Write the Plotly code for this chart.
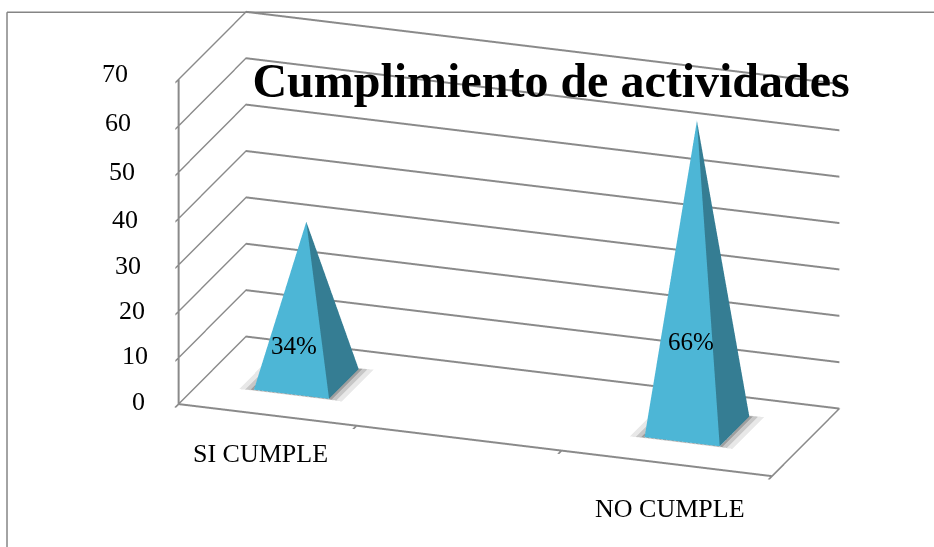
import plotly.graph_objects as go

categories = ["SI CUMPLE", "", "NO CUMPLE"]
values = [34, 66]
value_labels = ["34%", "66%"]
value_positions = [0.465, 2.44]
category_positions = [0.5, 2.5]
x_ticks = [0, 0.9, 1.936, 3]
z_ticks = [0, 10, 20, 30, 40, 50, 60, 70]
z_label_nudge = [3, 2, 1, -1, -1, 1, 3, 6]

FRONT = "#4DB6D6"
SIDE = "#357D93"
GRAY = "#8A8A8A"
SERIF = "Liberation Serif"
HW, HD, CY = 0.19, 0.22, 0.53
FLAT = dict(ambient=1, diffuse=0, specular=0, roughness=1, fresnel=0)


def shadow(cx, gx, gy, op):
    return go.Mesh3d(
        x=[cx - HW - gx, cx + HW + gx, cx + HW + gx, cx - HW - gx],
        y=[CY - HD - gy, CY - HD - gy, CY + HD + gy, CY + HD + gy],
        z=[0.02] * 4, i=[0, 0], j=[1, 2], k=[2, 3],
        color="#404040", opacity=op, lighting=FLAT, flatshading=True, hoverinfo="skip",
    )


def pyramid(cx, h):
    return go.Mesh3d(
        x=[cx - HW, cx + HW, cx + HW, cx - HW, cx],
        y=[CY - HD, CY - HD, CY + HD, CY + HD, CY],
        z=[0, 0, 0, 0, h],
        i=[0, 1, 2, 3], j=[1, 2, 3, 0], k=[4, 4, 4, 4],
        facecolor=[FRONT, SIDE, SIDE, FRONT],
        lighting=FLAT, flatshading=True, hoverinfo="skip",
    )


fig = go.Figure()
for cx, v in zip(value_positions, values):
    fig.add_trace(shadow(cx, 0.07, 0.015, 0.12))
    fig.add_trace(shadow(cx, 0.04, 0.01, 0.2))
    fig.add_trace(shadow(cx, 0.015, 0.005, 0.3))
    fig.add_trace(pyramid(cx, v))

notes = [
    dict(x=category_positions[0], y=0, z=0, text=categories[0], yshift=-37, xshift=-17,
         font=dict(family=SERIF, size=26, color="black")),
    dict(x=category_positions[1], y=0, z=0, text=categories[2], yshift=-44, xshift=-3,
         font=dict(family=SERIF, size=26, color="black")),
    dict(x=value_positions[0], y=CY, z=values[0] / 2, text=value_labels[0], xshift=-12, yshift=-45,
         font=dict(family=SERIF, size=25, color="black")),
    dict(x=value_positions[1], y=CY, z=values[1] / 2, text=value_labels[1], xshift=-6, yshift=-68,
         font=dict(family=SERIF, size=25, color="black")),
]
for t, nudge in zip(z_ticks, z_label_nudge):
    notes.append(dict(x=0, y=0, z=t, text=str(t), xshift=-40 - 24 * t / 70, yshift=nudge,
                      font=dict(family=SERIF, size=26, color="black")))
for n in notes:
    n.update(showarrow=False)

axis_common = dict(
    title=dict(text=""), showbackground=False, showspikes=False, zeroline=False,
    showline=True, linecolor=GRAY, linewidth=4,
)
fig.update_layout(
    width=934, height=547, margin=dict(l=0, r=0, t=0, b=0),
    paper_bgcolor="white", showlegend=False,
    title=dict(text="<b>Cumplimiento de actividades</b>", x=0.59, xanchor="center",
               y=0.853, yanchor="middle", font=dict(family=SERIF, size=48, color="black")),
    scene=dict(
        domain=dict(x=[0.09, 1], y=[0.108, 1]),
        xaxis=dict(axis_common, range=[0, 3], tickmode="array", tickvals=x_ticks,
                   ticktext=["", "", "", ""], showgrid=False, ticks="outside",
                   tickcolor=GRAY, ticklen=6, tickwidth=4),
        yaxis=dict(axis_common, range=[0, 1], showticklabels=False, showgrid=False, ticks=""),
        zaxis=dict(axis_common, range=[0, 70], tickmode="array", tickvals=z_ticks,
                   ticktext=[""] * len(z_ticks),
                   ticks="outside", tickcolor=GRAY, ticklen=6, tickwidth=4, tickangle=0,
                   showgrid=True, gridcolor=GRAY, gridwidth=4),
        aspectmode="manual",
        aspectratio=dict(x=2.575, y=0.84, z=1.42),
        camera=dict(projection=dict(type="orthographic"),
                    eye=dict(x=0.616, y=-1.77, z=0.698),
                    center=dict(x=0, y=0, z=0), up=dict(x=0, y=0, z=1)),
        annotations=notes,
    ),
    shapes=[
        dict(type="line", xref="paper", yref="paper", x0=0.0075, x1=1, y0=0.9775, y1=0.9775,
             line=dict(color="#858585", width=1.5)),
        dict(type="line", xref="paper", yref="paper", x0=0.0075, x1=0.0075, y0=0, y1=0.9775,
             line=dict(color="#858585", width=1.5)),
    ],
)
fig.write_html("out.html", post_script="document.body.style.margin='0';",
               config=dict(displayModeBar=False))
